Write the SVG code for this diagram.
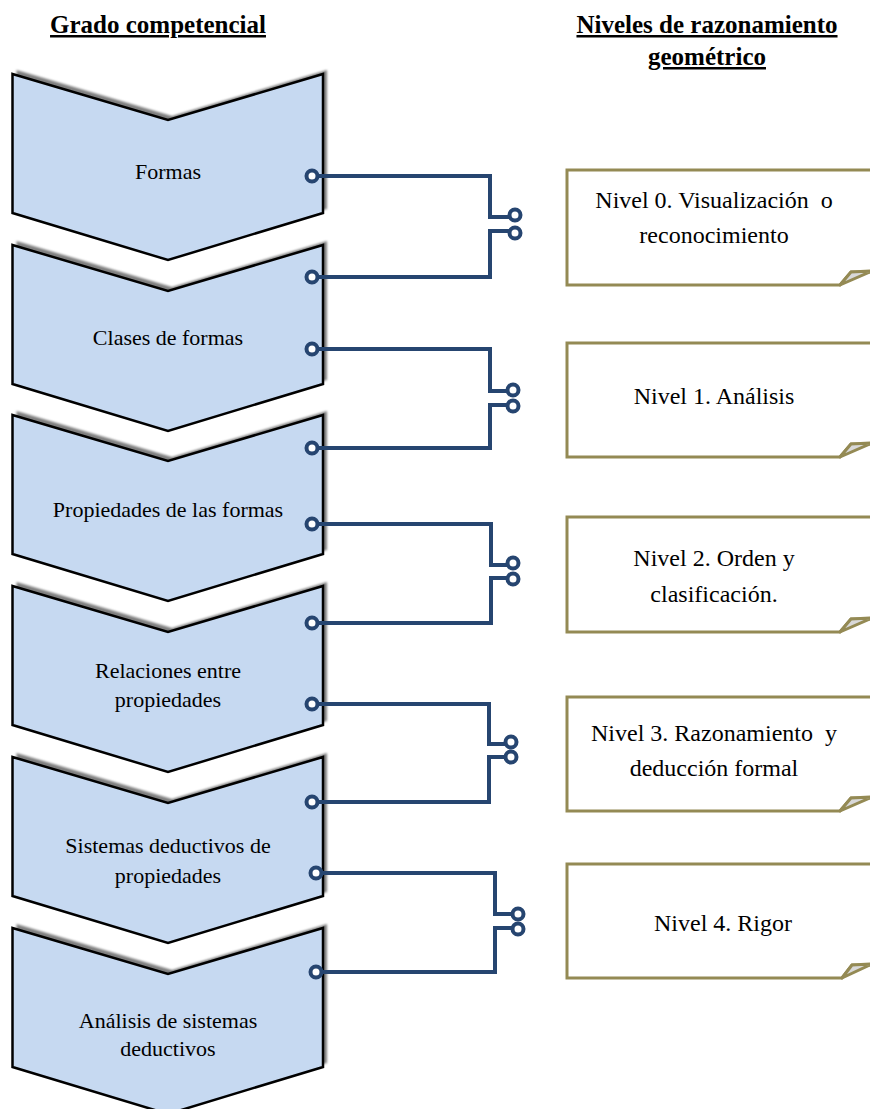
<svg xmlns="http://www.w3.org/2000/svg" width="870" height="1109" viewBox="0 0 870 1109">
<defs>
<filter id="sh" x="-10%" y="-10%" width="120%" height="120%"><feGaussianBlur stdDeviation="1"/></filter>
<style>
.chev{fill:#c6d9f1;stroke:#000;stroke-width:2.5;stroke-linejoin:miter}
.chsh{fill:#7f7f7f;filter:url(#sh)}
.ct{font-family:"Liberation Serif","Times New Roman",serif;font-size:22px;fill:#000;text-anchor:middle}
.nt{font-family:"Liberation Serif","Times New Roman",serif;font-size:24px;fill:#000;text-anchor:middle;white-space:pre}
.title{font-family:"Liberation Serif","Times New Roman",serif;font-size:25px;font-weight:bold;fill:#000;text-anchor:middle;text-decoration:underline}
.box{fill:#fff;stroke:#948a54;stroke-width:3}
.fold{fill:#d9d9d9;stroke:#948a54;stroke-width:3;stroke-linejoin:round}
.con{fill:none;stroke:#264570;stroke-width:4}
.dot{fill:#fff;stroke:#264570;stroke-width:4}
</style>
</defs>
<rect width="870" height="1109" fill="#fff"/>
<text class="title" x="158" y="33">Grado competencial</text>
<text class="title" x="707" y="33">Niveles de razonamiento</text>
<text class="title" x="707" y="65">geométrico</text>

<g id="c1"><path class="chsh" d="M16.5,70 L172,116 L327,70 L327,209 L172,256 L16.5,209 Z"/><path class="chev" d="M12.5,74 L168,120 L323,74 L323,213 L168,260 L12.5,213 Z"/><text class="ct" x="168" y="179">Formas</text></g>
<g id="c2"><path class="chsh" d="M16.5,241 L172,287 L327,241 L327,380 L172,427 L16.5,380 Z"/><path class="chev" d="M12.5,245 L168,291 L323,245 L323,384 L168,431 L12.5,384 Z"/><text class="ct" x="168" y="345">Clases de formas</text></g>
<g id="c3"><path class="chsh" d="M16.5,411 L172,457 L327,411 L327,550 L172,597 L16.5,550 Z"/><path class="chev" d="M12.5,415 L168,461 L323,415 L323,554 L168,601 L12.5,554 Z"/><text class="ct" x="168" y="517">Propiedades de las formas</text></g>
<g id="c4"><path class="chsh" d="M16.5,582 L172,628 L327,582 L327,721 L172,768 L16.5,721 Z"/><path class="chev" d="M12.5,586 L168,632 L323,586 L323,725 L168,772 L12.5,725 Z"/><text class="ct" x="168" y="678">Relaciones entre</text><text class="ct" x="168" y="707">propiedades</text></g>
<g id="c5"><path class="chsh" d="M16.5,753 L172,799 L327,753 L327,892 L172,939 L16.5,892 Z"/><path class="chev" d="M12.5,757 L168,803 L323,757 L323,896 L168,943 L12.5,896 Z"/><text class="ct" x="168" y="853">Sistemas deductivos de</text><text class="ct" x="168" y="883">propiedades</text></g>
<g id="c6"><path class="chsh" d="M16.5,924 L172,970 L327,924 L327,1063 L172,1110 L16.5,1063 Z"/><path class="chev" d="M12.5,928 L168,974 L323,928 L323,1067 L168,1114 L12.5,1067 Z"/><text class="ct" x="168" y="1028">Análisis de sistemas</text><text class="ct" x="168" y="1056">deductivos</text></g>

<g id="n0"><path class="box" d="M567,170 H885 V272 L851,272 L840,285 H567 Z"/><path class="fold" d="M840,285 L851,272 L872,271 Z"/><text class="nt" x="714" y="208">Nivel 0. Visualización  o</text><text class="nt" x="714" y="243">reconocimiento</text></g>
<g id="n1"><path class="box" d="M567,343 H885 V444 L851,444 L840,457 H567 Z"/><path class="fold" d="M840,457 L851,444 L872,443 Z"/><text class="nt" x="714" y="404">Nivel 1. Análisis</text></g>
<g id="n2"><path class="box" d="M567,517 H885 V619 L851,619 L840,632 H567 Z"/><path class="fold" d="M840,632 L851,619 L872,618 Z"/><text class="nt" x="714" y="566">Nivel 2. Orden y</text><text class="nt" x="714" y="602">clasificación.</text></g>
<g id="n3"><path class="box" d="M567,697 H885 V798 L851,798 L840,811 H567 Z"/><path class="fold" d="M840,811 L851,798 L872,797 Z"/><text class="nt" x="714" y="741">Nivel 3. Razonamiento  y</text><text class="nt" x="714" y="776">deducción formal</text></g>
<g id="n4"><path class="box" d="M567,864 H885 V965 L852,965 L842,978 H567 Z"/><path class="fold" d="M842,978 L852,965 L872,964 Z"/><text class="nt" x="723" y="931">Nivel 4. Rigor</text></g>

<g id="connectors">
<path class="con" d="M312,176 H490 V217 H515"/><path class="con" d="M312,277 H490 V231 H515"/>
<circle class="dot" cx="312" cy="176" r="5.5"/><circle class="dot" cx="312" cy="277" r="5.5"/><circle class="dot" cx="515" cy="215" r="5.5"/><circle class="dot" cx="515" cy="233" r="5.5"/>
<path class="con" d="M312,349 H490 V391 H513"/><path class="con" d="M312,448 H490 V405 H513"/>
<circle class="dot" cx="312" cy="349" r="5.5"/><circle class="dot" cx="312" cy="448" r="5.5"/><circle class="dot" cx="513" cy="390" r="5.5"/><circle class="dot" cx="513" cy="406" r="5.5"/>
<path class="con" d="M312,524 H491 V565 H513"/><path class="con" d="M312,623 H491 V578 H513"/>
<circle class="dot" cx="312" cy="524" r="5.5"/><circle class="dot" cx="312" cy="623" r="5.5"/><circle class="dot" cx="513" cy="563" r="5.5"/><circle class="dot" cx="513" cy="579" r="5.5"/>
<path class="con" d="M312,704 H489 V744 H511"/><path class="con" d="M312,802 H489 V757 H511"/>
<circle class="dot" cx="312" cy="704" r="5.5"/><circle class="dot" cx="312" cy="802" r="5.5"/><circle class="dot" cx="511" cy="742" r="5.5"/><circle class="dot" cx="511" cy="757" r="5.5"/>
<path class="con" d="M316,873 H495 V914 H518"/><path class="con" d="M316,972 H495 V928 H518"/>
<circle class="dot" cx="316" cy="873" r="5.5"/><circle class="dot" cx="316" cy="972" r="5.5"/><circle class="dot" cx="518" cy="914" r="5.5"/><circle class="dot" cx="518" cy="929" r="5.5"/>
</g>
</svg>
